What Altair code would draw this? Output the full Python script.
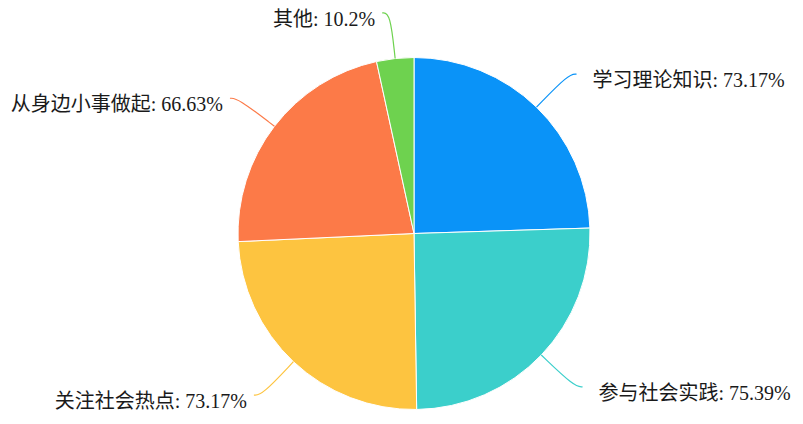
import math
import altair as alt
import pandas as pd

categories = ["学习理论知识", "参与社会实践", "关注社会热点", "从身边小事做起", "其他"]
values = [73.17, 75.39, 73.17, 66.63, 10.2]
label_texts = ["学习理论知识: 73.17%", "参与社会实践: 75.39%", "关注社会热点: 73.17%",
               "从身边小事做起: 66.63%", "其他: 10.2%"]
colors = ["#0A93F8", "#3BCFCB", "#FDC440", "#FC7A48", "#6ED24F"]

W, H = 787, 408
CX, CY = 406, 225.5
R = 176
R_ELBOW = 222
HOOK = 8

total = sum(values)
pie = pd.DataFrame({"cat": categories, "value": values, "order": list(range(len(values)))})

line_rows, label_rows = [], []
cum = 0.0
for i, (c, v, t) in enumerate(zip(categories, values, label_texts)):
    mid = (cum + v / 2) / total * 2 * math.pi
    cum += v
    s, co = math.sin(mid), math.cos(mid)
    side = 1 if s >= 0 else -1
    p1 = (R * s, R * co)
    p2 = (R_ELBOW * s, R_ELBOW * co)
    p3 = (p2[0] + side * HOOK, p2[1])
    for k, p in enumerate([p1, p2, p3]):
        line_rows.append({"cat": c, "k": k, "x": p[0], "y": p[1]})
    gap = 16 if side > 0 else 7
    label_rows.append({"cat": c, "text": t, "x": p3[0] + side * gap, "y": p3[1] - 7,
                       "side": "right" if side > 0 else "left"})

lines = pd.DataFrame(line_rows)
labels = pd.DataFrame(label_rows)

color_scale = alt.Scale(domain=categories, range=colors)
xs = alt.Scale(domain=[-CX, W - CX], range=[0, W], nice=False, zero=False)
ys = alt.Scale(domain=[-(H - CY), CY], nice=False, zero=False)

arcs = alt.Chart(pie).mark_arc(outerRadius=R, stroke="white", strokeWidth=1).encode(
    theta=alt.Theta("value:Q", stack=True),
    color=alt.Color("cat:N", scale=color_scale, legend=None),
    order=alt.Order("order:Q"),
    x=alt.value(CX),
    y=alt.value(CY),
)

leader = alt.Chart(lines).mark_line(strokeWidth=1.2, interpolate="basis").encode(
    x=alt.X("x:Q", scale=xs, axis=None),
    y=alt.Y("y:Q", scale=ys, axis=None),
    detail="cat:N",
    order="k:Q",
    color=alt.Color("cat:N", scale=color_scale, legend=None),
)

font = "Liberation Serif, Times New Roman, Noto Sans CJK SC"
text_right = alt.Chart(labels).transform_filter(alt.datum.side == "right").mark_text(
    align="left", baseline="middle", fontSize=20, font=font, color="#1a1a1a"
).encode(x=alt.X("x:Q", scale=xs, axis=None), y=alt.Y("y:Q", scale=ys, axis=None), text="text:N")

text_left = alt.Chart(labels).transform_filter(alt.datum.side == "left").mark_text(
    align="right", baseline="middle", fontSize=20, font=font, color="#1a1a1a"
).encode(x=alt.X("x:Q", scale=xs, axis=None), y=alt.Y("y:Q", scale=ys, axis=None), text="text:N")

chart = alt.layer(arcs, leader, text_right, text_left).properties(
    width=W, height=H, autosize=alt.AutoSizeParams(type="none"), padding=0
).configure_view(stroke=None)

chart.save("out.html", embed_options={"renderer": "svg", "actions": False})
